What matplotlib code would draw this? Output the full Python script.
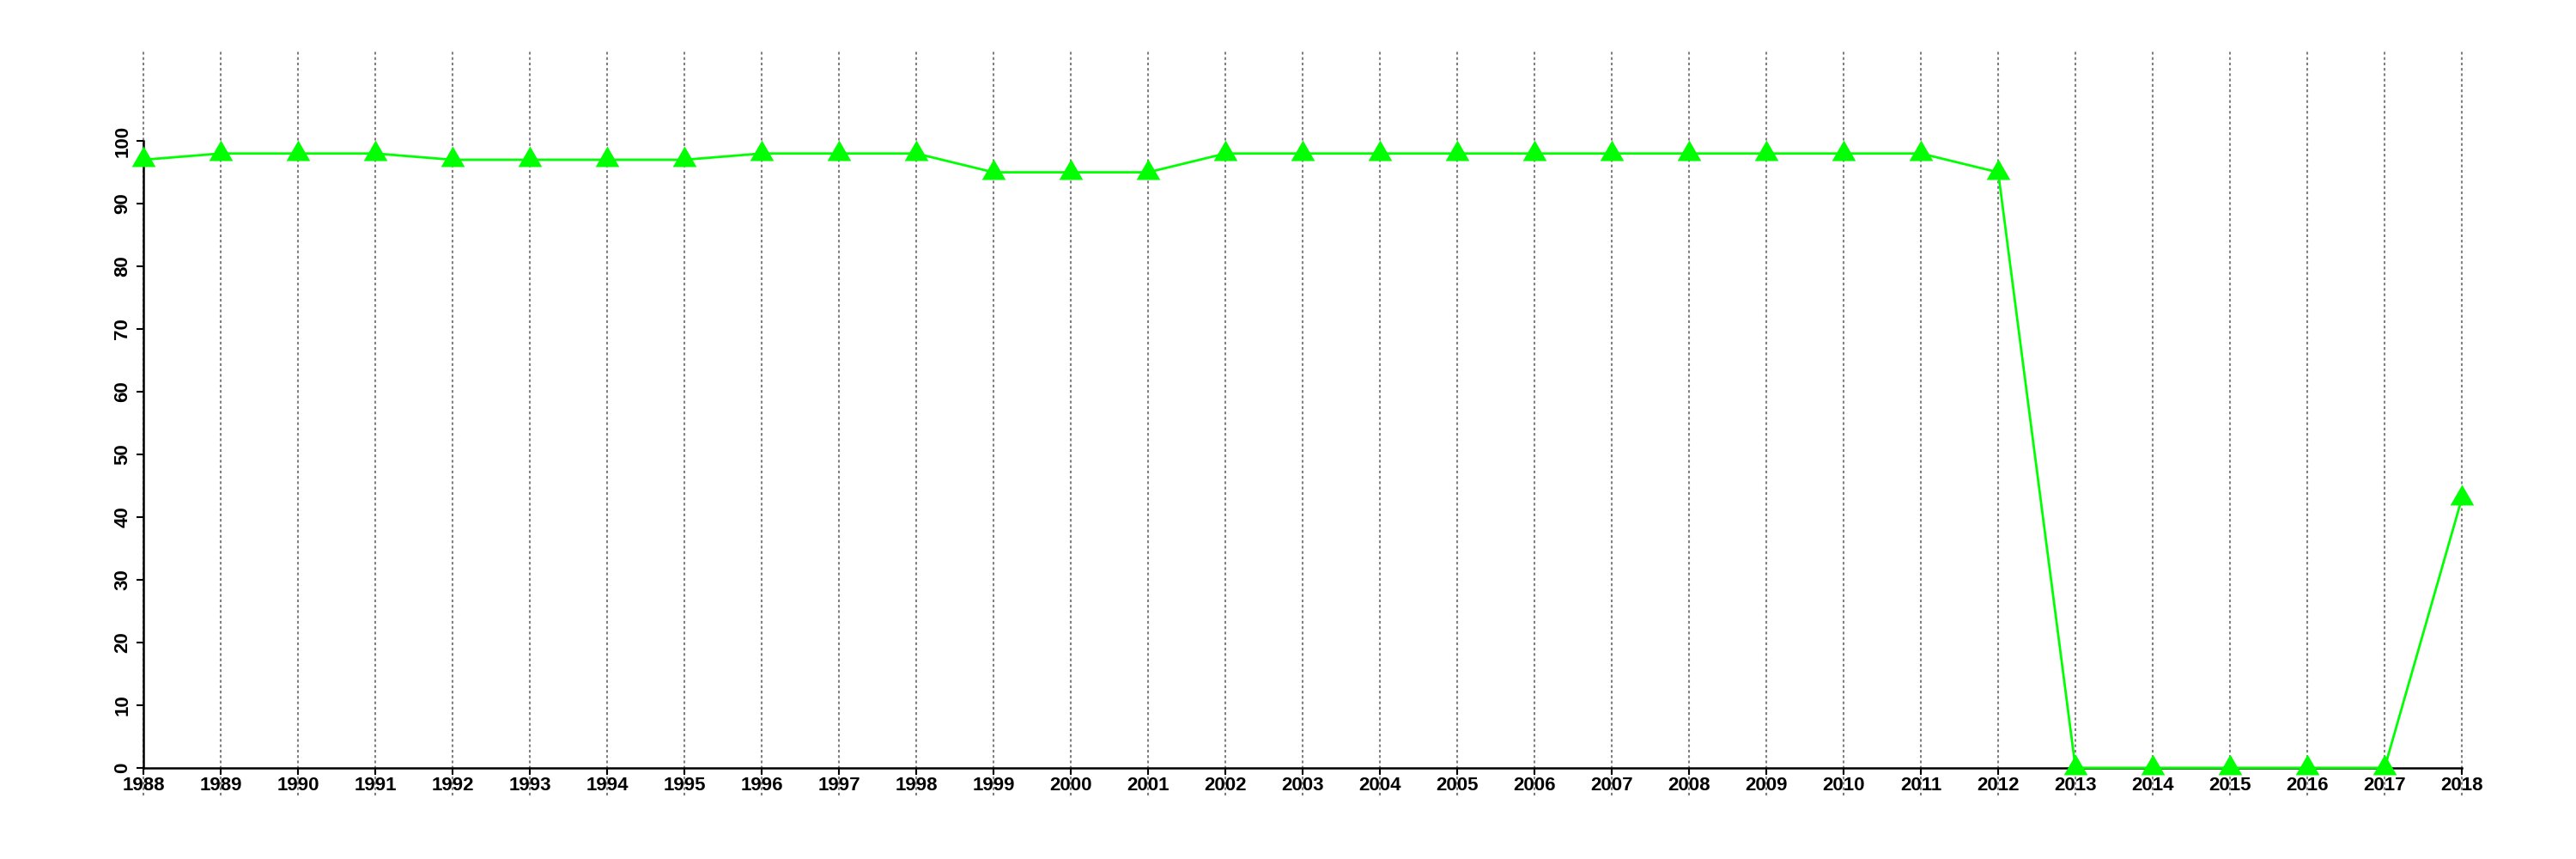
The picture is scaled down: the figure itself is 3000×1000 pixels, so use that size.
import matplotlib
matplotlib.use("Agg")
import matplotlib.pyplot as plt

years = list(range(1988, 2019))
values = [97, 98, 98, 98, 97, 97, 97, 97, 98, 98, 98, 95, 95, 95,
          98, 98, 98, 98, 98, 98, 98, 98, 98, 98, 95,
          0, 0, 0, 0, 0, 43]
y_ticks = list(range(0, 101, 10))

plt.rcParams['font.family'] = ['Liberation Sans', 'DejaVu Sans']

fig = plt.figure(figsize=(30, 10), dpi=100)
ax = fig.add_axes([0.0197, 0.074, 0.972, 0.867])

ax.set_xlim(1986.8, 2019.2)
ax.set_ylim(-4.4, 114.4)

# vertical dotted grid over the whole plot region
ax.grid(axis='x', color='#808080', linestyle=(0, (1.5, 1.5)), linewidth=1.5)
ax.set_axisbelow(True)

ax.plot(years, values, color='#00ff00', linewidth=2,
        marker=(3, 0, 0), markersize=23, markeredgewidth=0, zorder=3)

for side in ['top', 'right']:
    ax.spines[side].set_visible(False)
ax.spines['left'].set_position(('data', 1988))
ax.spines['left'].set_bounds(0, 100)
ax.spines['bottom'].set_position(('data', 0))
ax.spines['bottom'].set_bounds(1988, 2018)
for side in ['left', 'bottom']:
    ax.spines[side].set_linewidth(1.8)

ax.set_xticks(years)
ax.set_xticklabels([str(y) for y in years], fontsize=16, fontweight='bold')
ax.set_yticks(y_ticks)
ax.set_yticklabels([str(v) for v in y_ticks], fontsize=16, fontweight='bold',
                   rotation=90, va='center')
ax.tick_params(axis='both', length=6, width=1.5, direction='out')
ax.tick_params(axis='x', pad=1)
ax.tick_params(axis='y', pad=4)

fig.savefig('out.png', dpi=100, facecolor='white')
